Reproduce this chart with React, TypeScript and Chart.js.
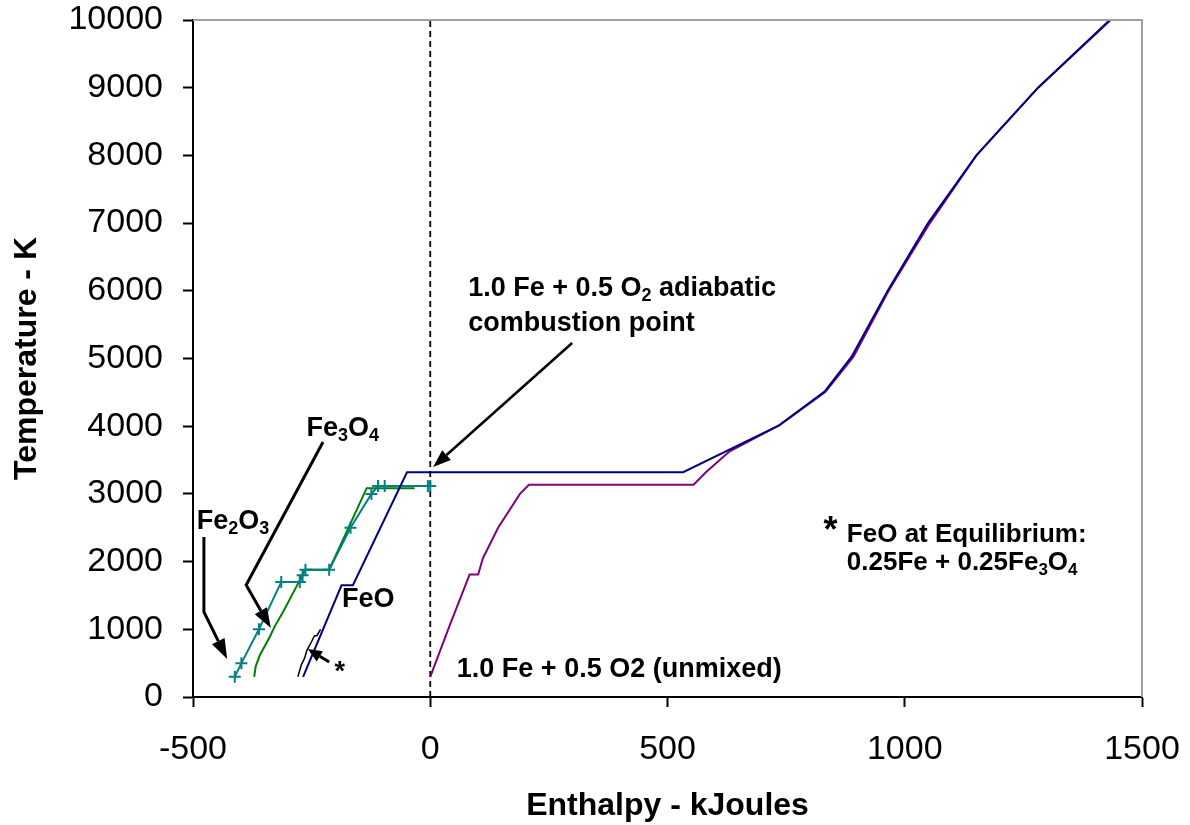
import React, { useEffect, useRef } from "react";
import { Chart, registerables } from "chart.js";

Chart.register(...registerables);

const FONT = 'Arial, "Liberation Sans", Helvetica, sans-serif';

// ---- axis ticks ----
const xTickValues = [-500, 0, 500, 1000, 1500];
const yTickValues = [0, 1000, 2000, 3000, 4000, 5000, 6000, 7000, 8000, 9000, 10000];

// ---- series (Enthalpy kJ, Temperature K) ----
const fe2o3H = [-412, -398, -361, -314, -275, -269, -263, -213, -168, -124, -110, -96, -5, 0];
const fe2o3T = [298, 500, 1000, 1700, 1700, 1800, 1880, 1880, 2500, 3000, 3115, 3115, 3115, 3115];

const fe3o4H = [-371, -368, -359, -338, -328, -310, -282, -264, -213, -134, -33];
const fe3o4T = [298, 450, 620, 890, 1040, 1260, 1630, 1880, 1880, 3085, 3085];

const feoEqH = [-279, -272, -265, -260, -250, -244, -239, -234, -231];
const feoEqT = [298, 470, 570, 690, 820, 905, 905, 965, 1000];

const feoH = [-268, -187, -163, -49, 533, 733, 831, 888, 964, 1049, 1151, 1281, 1432];
const feoT = [298, 1650, 1650, 3320, 3320, 4003, 4510, 5027, 6000, 7000, 8000, 9000, 10000];

const unmixedH = [0, 40, 83, 101, 111, 143, 189, 208, 555, 582, 631, 737, 833, 892, 966, 1053, 1151, 1281, 1434];
const unmixedT = [298, 1040, 1810, 1810, 2050, 2500, 3000, 3135, 3135, 3328, 3630, 4018, 4510, 5027, 6000, 7000, 8000, 9000, 10000];

const zeroLineH = [0, 0];
const zeroLineT = [0, 10000];

// ---- annotations (in data units) ----
const annotationTexts: { text: string; x: number; y: number; size: number }[] = [
  { text: "1.0 Fe + 0.5 O_2 adiabatic", x: 80, y: 5924, size: 27 },
  { text: "combustion point", x: 80, y: 5407, size: 27 },
  { text: "Fe_3O_4", x: -261, y: 3855, size: 27 },
  { text: "Fe_2O_3", x: -492, y: 2482, size: 27 },
  { text: "FeO", x: -186, y: 1329, size: 27 },
  { text: "*", x: -202, y: 250, size: 27 },
  { text: "1.0 Fe + 0.5 O2 (unmixed)", x: 56, y: 295, size: 27 },
  { text: "*", x: 829, y: 2290, size: 36 },
  { text: "FeO at Equilibrium:", x: 878, y: 2290, size: 26 },
  { text: "0.25Fe + 0.25Fe_3O_4", x: 878, y: 1876, size: 26 },
];

const annotationArrows: { pts: [number, number][]; head: number; half: number; lw: number }[] = [
  { pts: [[299, 5229], [6, 3397]], head: 18, half: 6.5, lw: 2.5 },
  { pts: [[-226, 3767], [-388, 1654], [-336, 1019]], head: 20, half: 7, lw: 3 },
  { pts: [[-477, 2363], [-477, 1256], [-428, 561]], head: 20, half: 7, lw: 3 },
  { pts: [[-213, 517], [-258, 709]], head: 14, half: 6, lw: 3 },
];

function drawRich(ctx: CanvasRenderingContext2D, text: string, x: number, y: number, size: number) {
  const parts = text.split(/(_\d)/);
  let cx = x;
  for (const p of parts) {
    if (!p) continue;
    if (p.startsWith("_")) {
      ctx.font = `bold ${Math.round(size * 0.66)}px ${FONT}`;
      ctx.fillText(p[1], cx, y + size * 0.2);
      cx += ctx.measureText(p[1]).width;
    } else {
      ctx.font = `bold ${size}px ${FONT}`;
      ctx.fillText(p, cx, y);
      cx += ctx.measureText(p).width;
    }
  }
}

const annotationPlugin = {
  id: "annotations",
  afterDatasetsDraw(chart: any) {
    const { ctx, chartArea, scales } = chart;
    const xs = scales.x;
    const ys = scales.y;
    ctx.save();
    // plot-area frame (top & right)
    ctx.strokeStyle = "#a0a0a0";
    ctx.lineWidth = 2;
    ctx.beginPath();
    ctx.moveTo(chartArea.left, chartArea.top);
    ctx.lineTo(chartArea.right, chartArea.top);
    ctx.lineTo(chartArea.right, chartArea.bottom);
    ctx.stroke();

    // arrows
    ctx.strokeStyle = "#000";
    ctx.fillStyle = "#000";
    ctx.lineJoin = "miter";
    for (const a of annotationArrows) {
      const pts = a.pts.map(([h, t]) => [xs.getPixelForValue(h), ys.getPixelForValue(t)]);
      const n = pts.length;
      const [tx, ty] = pts[n - 1];
      const [px, py] = pts[n - 2];
      const ang = Math.atan2(ty - py, tx - px);
      const bx = tx - a.head * Math.cos(ang);
      const by = ty - a.head * Math.sin(ang);
      ctx.lineWidth = a.lw;
      ctx.beginPath();
      ctx.moveTo(pts[0][0], pts[0][1]);
      for (let i = 1; i < n - 1; i++) ctx.lineTo(pts[i][0], pts[i][1]);
      ctx.lineTo(bx, by);
      ctx.stroke();
      ctx.beginPath();
      ctx.moveTo(tx, ty);
      ctx.lineTo(bx + a.half * Math.sin(ang), by - a.half * Math.cos(ang));
      ctx.lineTo(bx - a.half * Math.sin(ang), by + a.half * Math.cos(ang));
      ctx.closePath();
      ctx.fill();
    }

    // texts
    ctx.textBaseline = "alphabetic";
    ctx.textAlign = "left";
    for (const t of annotationTexts) {
      drawRich(ctx, t.text, xs.getPixelForValue(t.x), ys.getPixelForValue(t.y), t.size);
    }
    ctx.restore();
  },
};

function pts(h: number[], t: number[]) {
  return h.map((v, i) => ({ x: v, y: t[i] }));
}

export default function App() {
  const canvasRef = useRef<HTMLCanvasElement | null>(null);

  useEffect(() => {
    if (!canvasRef.current) return;
    Chart.defaults.font.family = FONT;
    Chart.defaults.color = "#000";
    const chart = new Chart(canvasRef.current, {
      type: "scatter",
      data: {
        datasets: [
          {
            label: "FeO",
            data: pts(feoH, feoT),
            showLine: true,
            borderColor: "#000080",
            borderWidth: 2,
            pointRadius: 0,
          },
          {
            label: "1.0 Fe + 0.5 O2 (unmixed)",
            data: pts(unmixedH, unmixedT),
            showLine: true,
            borderColor: "#800080",
            borderWidth: 2,
            pointRadius: 0,
          },
          {
            label: "Fe2O3",
            data: pts(fe2o3H, fe2o3T),
            showLine: true,
            borderColor: "#008080",
            borderWidth: 2,
            pointStyle: "cross",
            pointRadius: 6,
            pointBorderWidth: 2,
            pointBorderColor: "#008080",
          },
          {
            label: "Fe3O4",
            data: pts(fe3o4H, fe3o4T),
            showLine: true,
            borderColor: "#008000",
            borderWidth: 2,
            pointRadius: 0,
          },
          {
            label: "FeO at Equilibrium",
            data: pts(feoEqH, feoEqT),
            showLine: true,
            borderColor: "#000000",
            borderWidth: 1.5,
            pointRadius: 0,
          },
          {
            label: "zero",
            data: pts(zeroLineH, zeroLineT),
            showLine: true,
            borderColor: "#000000",
            borderWidth: 1.8,
            borderDash: [6, 4],
            pointRadius: 0,
          },
        ],
      },
      options: {
        animation: false,
        responsive: true,
        maintainAspectRatio: false,
        layout: { padding: { top: 20, right: 48, left: 0, bottom: 0 } },
        plugins: {
          legend: { display: false },
          tooltip: { enabled: false },
        },
        scales: {
          x: {
            type: "linear",
            min: -500,
            max: 1500,
            afterBuildTicks: (s: any) => {
              s.ticks = xTickValues.map((v) => ({ value: v }));
            },
            afterFit: (s: any) => {
              s.height = 128;
              s.paddingLeft = 0;
              s.paddingRight = 0;
            },
            ticks: {
              font: { size: 34 },
              color: "#000",
              padding: 22,
              maxRotation: 0,
              autoSkip: false,
              callback: (v: any) => String(v),
            },
            grid: {
              drawOnChartArea: false,
              drawTicks: true,
              tickLength: 10,
              tickColor: "#000",
              tickWidth: 2,
            },
            border: { display: true, color: "#000", width: 2 },
            title: {
              display: true,
              text: "Enthalpy - kJoules",
              font: { size: 32, weight: "bold" },
              color: "#000",
              padding: { top: 0, bottom: 0 },
            },
          },
          y: {
            type: "linear",
            min: 0,
            max: 10000,
            afterBuildTicks: (s: any) => {
              s.ticks = yTickValues.map((v) => ({ value: v }));
            },
            afterFit: (s: any) => {
              s.width = 193;
              s.paddingTop = 0;
              s.paddingBottom = 0;
            },
            ticks: {
              font: { size: 34 },
              color: "#000",
              padding: 20,
              autoSkip: false,
              callback: (v: any) => String(v),
            },
            grid: {
              drawOnChartArea: false,
              drawTicks: true,
              tickLength: 10,
              tickColor: "#000",
              tickWidth: 2,
            },
            border: { display: true, color: "#000", width: 2 },
            title: {
              display: true,
              text: "Temperature - K",
              font: { size: 32, weight: "bold" },
              color: "#000",
              padding: { top: 8, bottom: 0 },
            },
          },
        },
      },
      plugins: [annotationPlugin],
    });
    return () => chart.destroy();
  }, []);

  return (
    <div style={{ position: "absolute", left: 0, top: 0, width: 1190, height: 825, background: "#fff" }}>
      <canvas ref={canvasRef} />
    </div>
  );
}
